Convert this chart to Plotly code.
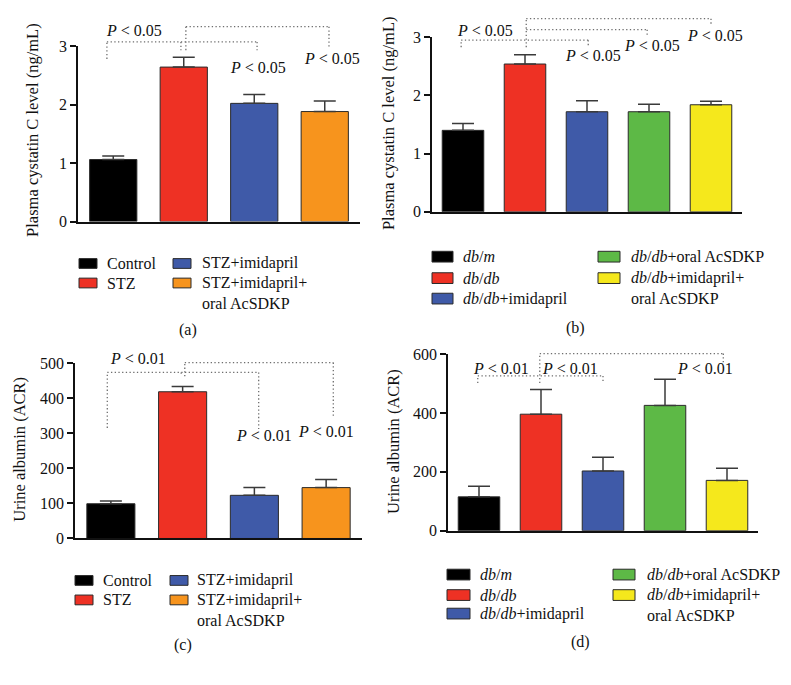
import plotly.graph_objects as go

W, H = 791, 685
FONT = "Liberation Serif, DejaVu Serif, serif"

# ---- data ----
stz_groups = ["Control", "STZ", "STZ+imidapril", "STZ+imidapril+<br>oral AcSDKP"]
db_groups = ["<i>db</i>/<i>m</i>", "<i>db</i>/<i>db</i>", "<i>db</i>/<i>db</i>+imidapril",
             "<i>db</i>/<i>db</i>+oral AcSDKP", "<i>db</i>/<i>db</i>+imidapril+<br>oral AcSDKP"]

cystatin_stz = [1.06, 2.64, 2.02, 1.88]
cystatin_stz_sem = [0.06, 0.17, 0.15, 0.18]
cystatin_db = [1.40, 2.54, 1.72, 1.72, 1.84]
cystatin_db_sem = [0.12, 0.16, 0.19, 0.13, 0.06]
acr_stz = [99, 418, 123, 145]
acr_stz_sem = [8, 15, 22, 23]
acr_db = [115, 396, 203, 426, 171]
acr_db_sem = [36, 84, 47, 89, 41]

stz_colors = ["#000000", "#EE3124", "#3F5AA8", "#F7941D"]
db_colors = ["#000000", "#EE3124", "#3F5AA8", "#5DB946", "#F5E81C"]

# panel geometry in pixels: x-domain (left, right), y-domain (top, bottom)
panels = [
    dict(name="a", vals=cystatin_stz, sem=cystatin_stz_sem, colors=stz_colors, groups=stz_groups,
         xpx=(78, 360), ypx=(39, 219), yrange=(0, 3), dtick=1,
         ytitle="Plasma cystatin C level (ng/mL)", title_pos=(33, 125)),
    dict(name="b", vals=cystatin_db, sem=cystatin_db_sem, colors=db_colors, groups=db_groups,
         xpx=(432, 742), ypx=(30, 209), yrange=(0, 3), dtick=1,
         ytitle="Plasma cystatin C level (ng/mL)", title_pos=(388, 118)),
    dict(name="c", vals=acr_stz, sem=acr_stz_sem, colors=stz_colors, groups=stz_groups,
         xpx=(75, 362), ypx=(364, 544), yrange=(0, 500), dtick=100,
         ytitle="Urine albumin (ACR)", title_pos=(20, 453)),
    dict(name="d", vals=acr_db, sem=acr_db_sem, colors=db_colors, groups=db_groups,
         xpx=(448, 758), ypx=(355, 536), yrange=(0, 600), dtick=200,
         ytitle="Urine albumin (ACR)", title_pos=(394, 445)),
]

# significance brackets (category position, value) per panel
brackets = {
    "a": [[(-0.09, 2.78), (-0.09, 3.07), (2.04, 3.07), (2.04, 2.93)],
          [(0.96, 3.07), (0.96, 2.93)],
          [(1.03, 2.93), (1.03, 3.33), (3.06, 3.33), (3.06, 2.97)]],
    "b": [[(-0.03, 2.83), (-0.03, 2.95), (2.02, 2.95), (2.02, 2.83)],
          [(1.02, 2.83), (1.02, 3.32)],
          [(1.02, 3.13), (2.97, 3.13), (2.97, 3.03)],
          [(1.02, 3.32), (4.0, 3.32), (4.0, 3.23)]],
    "c": [[(-0.05, 315), (-0.05, 473), (2.06, 473), (2.06, 312)],
          [(0.98, 473), (0.98, 462)],
          [(1.03, 462), (1.03, 501), (3.10, 501), (3.10, 345)]],
    "d": [[(-0.02, 502), (-0.02, 526), (2.0, 526), (2.0, 502)],
          [(0.98, 502), (0.98, 602)],
          [(0.98, 602), (3.94, 602), (3.94, 569)]],
}
p_labels = {
    "a": [("<i>P</i> < 0.05", 0.29, 3.27), ("<i>P</i> < 0.05", 2.05, 2.63), ("<i>P</i> < 0.05", 3.10, 2.78)],
    "b": [("<i>P</i> < 0.05", 0.35, 3.12), ("<i>P</i> < 0.05", 2.10, 2.68),
          ("<i>P</i> < 0.05", 3.05, 2.86), ("<i>P</i> < 0.05", 4.06, 3.03)],
    "c": [("<i>P</i> < 0.01", 0.38, 512), ("<i>P</i> < 0.01", 2.13, 293), ("<i>P</i> < 0.01", 3.0, 304)],
    "d": [("<i>P</i> < 0.01", 0.35, 552), ("<i>P</i> < 0.01", 1.47, 552), ("<i>P</i> < 0.01", 3.65, 552)],
}

# legend layout: (swatch x0, x1, text x, rows) per column
legend_layout = {
    "a": dict(cols=[(79, 97, 105, [262, 282]), (173, 191, 200, [262, 282])], sh=5, label=(188, 330)),
    "b": dict(cols=[(432, 453, 461, [255, 277, 298]), (598, 620, 629, [255, 277])], sh=5.5, label=(575, 328)),
    "c": dict(cols=[(75, 93, 101, [587, 607]), (170, 188, 195, [587, 607])], sh=5, label=(183, 653)),
    "d": dict(cols=[(447, 470, 478, [581, 602, 621]), (613, 635, 645, [581, 602])], sh=5.5, label=(580, 650)),
}


def px(x, y):
    return x / W, 1 - y / H


def txt(size):
    return dict(family=FONT, size=size, color="#111")


fig = go.Figure()
shapes = []
annotations = []

for i, p in enumerate(panels, start=1):
    n = len(p["vals"])
    xr = (-0.5, n - 0.5)
    sfx = "" if i == 1 else str(i)
    fig.add_trace(go.Bar(
        x=list(range(n)), y=p["vals"], width=0.67,
        marker=dict(color=p["colors"], line=dict(color="#2a2a2a", width=1)),
        error_y=dict(type="data", symmetric=False, array=p["sem"], arrayminus=[0] * n,
                     color="#3a3a3a", thickness=1.5, width=11),
        xaxis="x" + sfx, yaxis="y" + sfx, showlegend=False, cliponaxis=False,
        hoverinfo="skip",
    ))
    x0, x1 = p["xpx"]
    yt, yb = p["ypx"]
    fig.layout["xaxis" + sfx] = dict(domain=[x0 / W, x1 / W], range=list(xr), anchor="y" + sfx,
                                     showline=True, linecolor="#111", linewidth=1.5,
                                     showticklabels=False, ticks="", showgrid=False, zeroline=False,
                                     fixedrange=True)
    fig.layout["yaxis" + sfx] = dict(domain=[1 - yb / H, 1 - yt / H], range=list(p["yrange"]),
                                     anchor="x" + sfx, dtick=p["dtick"], tick0=0,
                                     showline=True, linecolor="#111", linewidth=1.5,
                                     ticks="outside", ticklen=6, tickwidth=1.5, tickcolor="#111",
                                     showgrid=False, zeroline=False, tickfont=txt(16),
                                     fixedrange=True)

    def to_paper(cat, val, x0=x0, x1=x1, yt=yt, yb=yb, xr=xr, yr=p["yrange"]):
        xp = x0 + (cat - xr[0]) / (xr[1] - xr[0]) * (x1 - x0)
        yp = yb - (val - yr[0]) / (yr[1] - yr[0]) * (yb - yt)
        return px(xp, yp)

    # y-axis title
    tx, ty = px(*p["title_pos"])
    annotations.append(dict(x=tx, y=ty, xref="paper", yref="paper", text=p["ytitle"],
                            textangle=-90, showarrow=False, xanchor="center", yanchor="middle",
                            font=txt(16.5)))

    # brackets
    for line in brackets[p["name"]]:
        pts = [to_paper(c, v) for c, v in line]
        for (ax, ay), (bx, by) in zip(pts[:-1], pts[1:]):
            shapes.append(dict(type="line", xref="paper", yref="paper", x0=ax, y0=ay, x1=bx, y1=by,
                               line=dict(color="#6e6e6e", width=1.3, dash="1.3px,2.4px")))
    for label, c, v in p_labels[p["name"]]:
        ax, ay = to_paper(c, v)
        annotations.append(dict(x=ax, y=ay, xref="paper", yref="paper", text=label, showarrow=False,
                                xanchor="center", yanchor="middle", font=txt(16)))

    # legend
    lg = legend_layout[p["name"]]
    k = 0
    for sx0, sx1, txx, rows in lg["cols"]:
        for ry in rows:
            if k >= n:
                break
            a0x, a0y = px(sx0, ry - lg["sh"])
            a1x, a1y = px(sx1, ry + lg["sh"])
            shapes.append(dict(type="rect", xref="paper", yref="paper", x0=a0x, y0=a0y, x1=a1x, y1=a1y,
                               fillcolor=p["colors"][k], line=dict(color="#2a2a2a", width=1)))
            label = p["groups"][k]
            two = "<br>" in label
            lx, ly = px(txx, ry - 11 if two else ry)
            annotations.append(dict(x=lx, y=ly, xref="paper", yref="paper", text=label,
                                    showarrow=False, xanchor="left",
                                    yanchor="top" if two else "middle", align="left",
                                    font=txt(16)))
            k += 1
    lx, ly = px(*lg["label"])
    annotations.append(dict(x=lx, y=ly, xref="paper", yref="paper", text="(" + p["name"] + ")",
                            showarrow=False, xanchor="center", yanchor="middle", font=txt(16)))

fig.update_layout(
    width=W, height=H,
    margin=dict(l=0, r=0, t=0, b=0),
    paper_bgcolor="white", plot_bgcolor="white",
    shapes=shapes, annotations=annotations,
    showlegend=False,
)

fig.write_html("out.html", config={"displayModeBar": False},
               post_script="document.body.style.margin='0';")
